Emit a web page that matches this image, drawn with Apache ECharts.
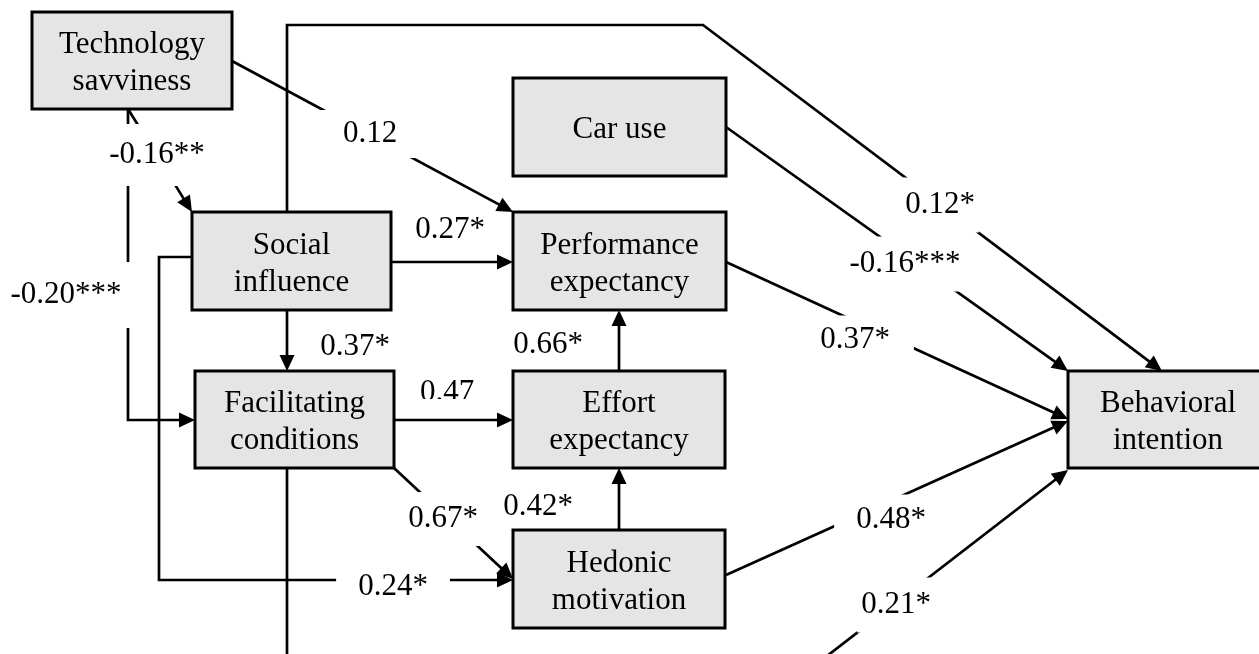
<!DOCTYPE html>
<html>
<head>
<meta charset="utf-8">
<script src="https://cdn.jsdelivr.net/npm/echarts@6/dist/echarts.min.js"></script>
<style>
  html, body { margin: 0; padding: 0; background: #fff; }
  #chart { width: 1259px; height: 654px; }
</style>
</head>
<body>
<div id="chart"></div>
<script>
// ---------------------------------------------------------------------------
// model data
// ---------------------------------------------------------------------------
var constructs = ['Technology\nsavviness', 'Social\ninfluence', 'Car use', 'Performance\nexpectancy',
    'Facilitating\nconditions', 'Effort\nexpectancy', 'Hedonic\nmotivation', 'Behavioral\nintention'];

// structural paths: index into constructs, with the path coefficient label
var pathFrom = [0, 0, 0, 1, 1, 1, 1, 4, 4, 4, 5, 6, 2, 3, 6];
var pathTo   = [3, 1, 4, 3, 4, 6, 7, 5, 6, 7, 3, 5, 7, 7, 7];
var pathCoef = ['0.12', '-0.16**', '-0.20***', '0.27*', '0.37*', '0.24*', '0.12*', '0.47',
    '0.67*', '0.21*', '0.66*', '0.42*', '-0.16***', '0.37*', '0.48*'];

// ---------------------------------------------------------------------------
// layout (diagram units = pixels of the drawing)
// ---------------------------------------------------------------------------
var boxRect = [
    [32, 12, 232, 109], [192, 212, 391, 310], [513, 78, 726, 176], [513, 212, 726, 310],
    [195, 371, 394, 468], [513, 371, 725, 468], [513, 530, 725, 628], [1068, 371, 1268, 468]
];

var routes = [
    [[232, 61], [513, 212]],
    [[128, 109], [192, 212]],
    [[128, 109], [128, 420], [195, 420]],
    [[391, 262], [513, 262]],
    [[287, 310], [287, 371]],
    [[192, 257], [159, 257], [159, 580], [513, 580]],
    [[287, 212], [287, 25], [703, 25], [1162, 371]],
    [[394, 420], [513, 420]],
    [[394, 468], [513, 579]],
    [[287, 468], [287, 700], [770, 700], [1068, 470]],
    [[619, 371], [619, 310]],
    [[619, 530], [619, 468]],
    [[726, 127], [1068, 371]],
    [[726, 262], [1068, 419]],
    [[726, 575], [1068, 421]]
];

// label centre and white knock-out padding [top, right, bottom, left]
var labelPos = [
    [370, 132], [157, 153], [66, 293], [450, 228], [355, 345], [393, 585], [940, 203], [447, 391],
    [443, 517], [896, 603], [548, 343], [538, 505], [905, 262], [865, 338], [882, 518]
];
var labelPad = [
    [8, 22, 8, 22], [15, 4, 15, 4], [17, 10, 17, 10], [0, 0, 0, 0], [0, 0, 0, 0], [4, 22, 4, 22],
    [14, 4, 9, 4], [0, 0, 0, 0], [16, 4, 6, 4], [14, 4, 9, 4], [0, 0, 0, 0], [0, 0, 0, 0],
    [15, 2, 8, 2], [15, 24, 2, 4], [15, 4, 4, 22]
];
var labelClipBottom = { 7: 399 };

var FONT = 'Liberation Serif';
var FONT_SIZE = 31;
var TEXT_DY = 2;
var ARROW_LEN = 16;
var ARROW_HALF = 7.5;

// ---------------------------------------------------------------------------
// renderers
// ---------------------------------------------------------------------------
var renderPath = function renderPath(params, api) {
    var i = params.dataIndex;
    var pts = routes[i].map(function (p) { return api.coord(p); });
    var n = pts.length;
    var tip = pts[n - 1];
    var prev = pts[n - 2];
    var dx = tip[0] - prev[0];
    var dy = tip[1] - prev[1];
    var len = Math.sqrt(dx * dx + dy * dy);
    var ux = dx / len, uy = dy / len;
    var bx = tip[0] - ux * ARROW_LEN, by = tip[1] - uy * ARROW_LEN;
    var linePts = pts.slice(0, n - 1).concat([[bx + ux * 2, by + uy * 2]]);

    return {
        type: 'group',
        children: [{
            type: 'polyline',
            shape: { points: linePts },
            style: { stroke: '#000', lineWidth: 2.7, fill: null, lineJoin: 'miter' }
        }, {
            type: 'polygon',
            shape: {
                points: [tip, [bx - uy * ARROW_HALF, by + ux * ARROW_HALF], [bx + uy * ARROW_HALF, by - ux * ARROW_HALF]]
            },
            style: { fill: '#000' }
        }]
    };
};

var renderBox = function renderBox(params, api) {
    var r = boxRect[params.dataIndex];
    var p0 = api.coord([r[0], r[1]]);
    var p1 = api.coord([r[2], r[3]]);
    return {
        type: 'group',
        children: [{
            type: 'rect',
            shape: { x: p0[0], y: p0[1], width: p1[0] - p0[0], height: p1[1] - p0[1] },
            style: { fill: '#e5e5e5', stroke: '#000', lineWidth: 3 }
        }, {
            type: 'text',
            style: {
                text: constructs[params.dataIndex],
                x: (p0[0] + p1[0]) / 2,
                y: (p0[1] + p1[1]) / 2 + 1 + TEXT_DY,
                align: 'center',
                verticalAlign: 'middle',
                fontFamily: FONT,
                fontSize: FONT_SIZE,
                lineHeight: 37,
                fill: '#000'
            }
        }]
    };
};

var renderCoef = function renderCoef(params, api) {
    var i = params.dataIndex;
    var c = api.coord(labelPos[i]);
    var el = {
        type: 'text',
        style: {
            text: pathCoef[i],
            x: c[0],
            y: c[1] + TEXT_DY,
            align: 'center',
            verticalAlign: 'middle',
            fontFamily: FONT,
            fontSize: FONT_SIZE,
            lineHeight: 32,
            fill: '#000',
            backgroundColor: '#fff',
            padding: labelPad[i]
        }
    };
    if (labelClipBottom[i] !== undefined) {
        var cb = api.coord([0, labelClipBottom[i]]);
        el.clipPath = { type: 'rect', shape: { x: 0, y: 0, width: 2000, height: cb[1] } };
    }
    return el;
};

// ---------------------------------------------------------------------------
// chart
// ---------------------------------------------------------------------------
var chart = echarts.init(document.getElementById('chart'));

chart.setOption({
    animation: false,
    backgroundColor: '#fff',
    grid: { left: 0, right: 0, top: 0, bottom: 0 },
    xAxis: { type: 'value', min: 0, max: 1259, show: false },
    yAxis: { type: 'value', min: 0, max: 654, inverse: true, show: false },
    series: [{
        type: 'custom',
        name: 'paths',
        renderItem: renderPath,
        data: pathCoef.map(function (c, i) { return [pathFrom[i], pathTo[i]]; }),
        z: 1,
        silent: true
    }, {
        type: 'custom',
        name: 'constructs',
        renderItem: renderBox,
        data: constructs.map(function (c, i) { return [i]; }),
        z: 2,
        silent: true
    }, {
        type: 'custom',
        name: 'coefficients',
        renderItem: renderCoef,
        data: pathCoef.map(function (c, i) { return [i]; }),
        z: 3,
        silent: true
    }]
});
</script>
</body>
</html>
